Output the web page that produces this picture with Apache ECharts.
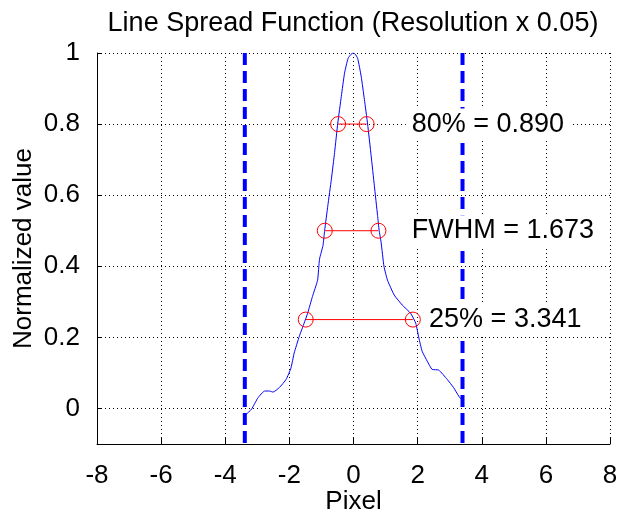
<!DOCTYPE html>
<html>
<head>
<meta charset="utf-8">
<script src="https://cdn.jsdelivr.net/npm/echarts@6/dist/echarts.min.js"></script>
<style>
html, body { margin: 0; padding: 0; background: #fff; }
#chart { width: 618px; height: 515px; }
</style>
</head>
<body>
<div id="chart"></div>
<script>
// Line spread function samples (pixel, normalized value)
const lsfX = [-3.34, -3.18, -2.98, -2.77, -2.62, -2.51, -2.31, -2.10, -1.95, -1.85, -1.69, -1.54, -1.43, -1.28, -1.12, -1.06,
    -0.95, -0.90, -0.80, -0.69, -0.59, -0.49, -0.38, -0.28, -0.17, -0.08, -0.02, 0.05, 0.13, 0.24, 0.34, 0.44, 0.55, 0.65,
    0.75, 0.80, 0.86, 0.95, 1.06, 1.27, 1.52, 1.78, 1.94, 2.04, 2.14, 2.30, 2.45, 2.66, 2.92, 3.12, 3.28, 3.36];
const lsfY = [-0.016, -0.002, 0.030, 0.049, 0.049, 0.046, 0.059, 0.082, 0.114, 0.156, 0.203, 0.240, 0.268, 0.315, 0.361, 0.420,
    0.459, 0.501, 0.571, 0.645, 0.720, 0.803, 0.878, 0.943, 0.985, 0.996, 1.000, 0.997, 0.985, 0.934, 0.869, 0.800, 0.711, 0.627,
    0.543, 0.501, 0.468, 0.400, 0.361, 0.319, 0.291, 0.268, 0.240, 0.198, 0.161, 0.133, 0.110, 0.108, 0.082, 0.059, 0.035, 0.026];

const yTicks = [0, 0.2, 0.4, 0.6, 0.8, 1];
const limits = [-3.39, 3.40];

// width markers at 80%, 50%, 25%
const levels = [0.8, 0.5, 0.25];
const levelLeft = [-0.48, -0.895, -1.49];
const levelRight = [0.41, 0.778, 1.851];
const noteText = ['80% = 0.890', 'FWHM = 1.673', '25% = 3.341'];
const noteX = [1.63, 1.63, 2.17];

const font = 'Liberation Sans';
const chart = echarts.init(document.getElementById('chart'));

const series = [];
series.push({
    type: 'line',
    data: lsfX.map((x, i) => [x, lsfY[i]]),
    showSymbol: false,
    smooth: 0.15,
    lineStyle: {color: '#0000ff', width: 1},
    z: 3
});
limits.forEach(x => {
    series.push({
        type: 'line',
        data: [[x, 1], [x, -0.1]],
        symbol: 'none',
        lineStyle: {color: '#0000ff', width: 4, type: [12, 6]},
        z: 2
    });
});
levels.forEach((y, i) => {
    series.push({
        type: 'line',
        data: [[levelLeft[i], y], [levelRight[i], y]],
        symbol: 'circle',
        symbolSize: 15,
        itemStyle: {color: 'rgba(0,0,0,0)', borderColor: '#ff0000', borderWidth: 1},
        lineStyle: {color: '#ff0000', width: 1},
        z: 4
    });
});
series.push({
    type: 'scatter',
    symbolSize: 0,
    itemStyle: {opacity: 1},
    data: levels.map((y, i) => ({value: [noteX[i], y], name: noteText[i]})),
    label: {
        show: true,
        position: 'right',
        distance: 0,
        formatter: p => p.name,
        fontFamily: font,
        fontSize: 27,
        color: '#000',
        backgroundColor: '#fff',
        padding: [2, 6]
    },
    z: 10
});

chart.setOption({
    animation: false,
    backgroundColor: '#fff',
    graphic: [{
        type: 'text',
        x: 353,
        y: 24,
        style: {
            text: 'Line Spread Function (Resolution x 0.05)',
            fill: '#000',
            fontFamily: font,
            fontSize: 27,
            textAlign: 'center',
            textVerticalAlign: 'middle'
        }
    }],
    grid: {left: 97, right: 8, top: 53, bottom: 71, outerBoundsMode: 'none'},
    xAxis: {
        type: 'value',
        min: -8,
        max: 8,
        interval: 2,
        name: 'Pixel',
        nameLocation: 'middle',
        nameGap: 45,
        nameMoveOverlap: false,
        nameTextStyle: {fontFamily: font, fontSize: 26, color: '#000'},
        axisLine: {onZero: false, lineStyle: {color: '#000', width: 1}},
        axisTick: {inside: true, length: 6, lineStyle: {color: '#000'}},
        axisLabel: {fontFamily: font, fontSize: 26, color: '#000', margin: 19},
        splitLine: {show: true, lineStyle: {color: '#000', width: 1, type: [1, 3]}}
    },
    yAxis: {
        type: 'value',
        min: -0.1,
        max: 1,
        name: 'Normalized value',
        nameLocation: 'middle',
        nameGap: 60,
        nameMoveOverlap: false,
        nameTextStyle: {fontFamily: font, fontSize: 26, color: '#000'},
        axisLine: {show: true, onZero: false, lineStyle: {color: '#000', width: 1}},
        axisTick: {show: true, inside: true, length: 5, customValues: yTicks, lineStyle: {color: '#000'}},
        axisLabel: {fontFamily: font, fontSize: 26, color: '#000', margin: 17, customValues: yTicks},
        splitLine: {show: true, lineStyle: {color: '#000', width: 1, type: [1, 3]}}
    },
    series: series
});
</script>
</body>
</html>
